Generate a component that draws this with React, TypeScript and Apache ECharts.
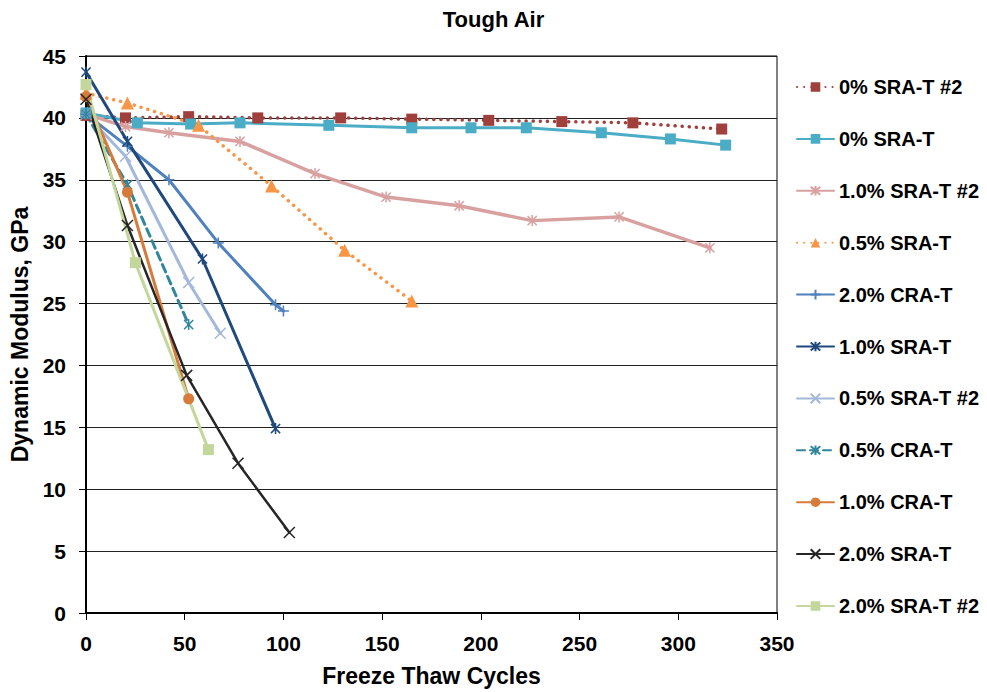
import React, { useEffect, useRef } from "react";
import * as echarts from "echarts";

// ---- Data (Freeze Thaw Cycles, Dynamic Modulus GPa) ----
const seriesNames = [
  "0% SRA-T #2",
  "0% SRA-T",
  "1.0% SRA-T #2",
  "0.5% SRA-T",
  "2.0% CRA-T",
  "1.0% SRA-T",
  "0.5% SRA-T #2",
  "0.5% CRA-T",
  "1.0% CRA-T",
  "2.0% SRA-T",
  "2.0% SRA-T #2",
];

const sra0b_x = [0, 20, 52, 87, 129, 165, 204, 241, 277, 322];
const sra0b_y = [40.2, 40.0, 40.1, 40.0, 40.0, 39.9, 39.8, 39.7, 39.6, 39.1];

const sra0_x = [0, 26, 53, 78, 123, 165, 195, 223, 261, 296, 324];
const sra0_y = [40.4, 39.6, 39.5, 39.6, 39.4, 39.2, 39.2, 39.2, 38.8, 38.3, 37.8];

const sra10b_x = [0, 20, 42, 78, 116, 152, 189, 226, 270, 316];
const sra10b_y = [40.3, 39.3, 38.8, 38.1, 35.5, 33.6, 32.9, 31.7, 32.0, 29.5];

const sra05_x = [0, 21, 57, 94, 131, 165];
const sra05_y = [42.0, 41.2, 39.4, 34.5, 29.3, 25.2];

const cra20_x = [0, 21, 42, 67, 96, 100];
const cra20_y = [40.3, 37.7, 35.0, 29.9, 24.9, 24.4];

const sra10_x = [0, 21, 59, 96];
const sra10_y = [43.7, 38.1, 28.6, 14.9];

const sra05b_x = [0, 20, 52, 68];
const sra05b_y = [40.3, 36.9, 26.7, 22.6];

const cra05_x = [0, 21, 52];
const cra05_y = [40.3, 34.6, 23.3];

const cra10_x = [0, 21, 52];
const cra10_y = [41.7, 34.0, 17.3];

const sra20_x = [0, 21, 51, 77, 103];
const sra20_y = [41.5, 31.3, 19.2, 12.1, 6.5];

const sra20b_x = [0, 25, 62];
const sra20b_y = [42.7, 28.3, 13.2];

const xTicks = [0, 50, 100, 150, 200, 250, 300, 350];
const yTicks = [0, 5, 10, 15, 20, 25, 30, 35, 40, 45];

const FONT = "Arial, 'Liberation Sans', sans-serif";

const SYM_AST = "path://M0,0 L10,10 M10,0 L0,10 M5,-1 L5,11";
const SYM_PLUS = "path://M5,0 L5,10 M0,5 L10,5";
const SYM_X = "path://M0,0 L10,10 M10,0 L0,10";

function zip(xs: number[], ys: number[]) {
  return xs.map((x, i) => [x, ys[i]]);
}

type Spec = {
  name: string;
  xs: number[];
  ys: number[];
  color: string;
  width: number;
  type: any;
  symbol: string;
  size: number;
  stroke?: boolean;
};

const specs: Spec[] = [
  { name: seriesNames[0], xs: sra0b_x, ys: sra0b_y, color: "#A0403C", width: 3.5, type: [0.1, 7], symbol: "rect", size: 11 },
  { name: seriesNames[1], xs: sra0_x, ys: sra0_y, color: "#4BACC6", width: 3, type: "solid", symbol: "rect", size: 11 },
  { name: seriesNames[2], xs: sra10b_x, ys: sra10b_y, color: "#D9A0A0", width: 3.5, type: "solid", symbol: SYM_AST, size: 11, stroke: true },
  { name: seriesNames[3], xs: sra05_x, ys: sra05_y, color: "#F79646", width: 3.5, type: [0.1, 7], symbol: "triangle", size: 13 },
  { name: seriesNames[4], xs: cra20_x, ys: cra20_y, color: "#4F81BD", width: 3, type: "solid", symbol: SYM_PLUS, size: 11, stroke: true },
  { name: seriesNames[5], xs: sra10_x, ys: sra10_y, color: "#1F497D", width: 3, type: "solid", symbol: SYM_AST, size: 11, stroke: true },
  { name: seriesNames[6], xs: sra05b_x, ys: sra05b_y, color: "#A3B8DA", width: 3, type: "solid", symbol: SYM_X, size: 11, stroke: true },
  { name: seriesNames[7], xs: cra05_x, ys: cra05_y, color: "#31859C", width: 3, type: [8, 5], symbol: SYM_AST, size: 11, stroke: true },
  { name: seriesNames[8], xs: cra10_x, ys: cra10_y, color: "#D67B3A", width: 3, type: "solid", symbol: "circle", size: 11 },
  { name: seriesNames[9], xs: sra20_x, ys: sra20_y, color: "#262626", width: 2.5, type: "solid", symbol: SYM_X, size: 11, stroke: true },
  { name: seriesNames[10], xs: sra20b_x, ys: sra20b_y, color: "#C3D69B", width: 3, type: "solid", symbol: "rect", size: 11 },
];

export default function App() {
  const ref = useRef<HTMLDivElement>(null);

  useEffect(() => {
    if (!ref.current) return;
    const chart = echarts.init(ref.current, null, { renderer: "svg" });

    const series = specs.map((s) => ({
      name: s.name,
      type: "line",
      data: zip(s.xs, s.ys),
      color: s.color,
      symbol: s.symbol,
      symbolSize: s.size,
      symbolKeepAspect: true,
      showSymbol: true,
      lineStyle: { color: s.color, width: s.width, type: s.type, cap: "round" },
      itemStyle: s.stroke
        ? { color: s.color, borderColor: s.color, borderWidth: 1.5 }
        : { color: s.color, borderWidth: 0 },
      emphasis: { disabled: true },
    }));

    chart.setOption({
      animation: false,
      backgroundColor: "#ffffff",
      title: {
        text: "Tough Air",
        left: "center",
        top: 3,
        textStyle: { fontFamily: FONT, fontWeight: "bold", fontSize: 22, color: "#000" },
      },
      legend: {
        orient: "vertical",
        left: 791,
        top: 72,
        itemWidth: 37,
        itemHeight: 12,
        itemGap: 31.9,
        data: seriesNames,
        textStyle: { fontFamily: FONT, fontWeight: "bold", fontSize: 20, color: "#000", lineHeight: 20 },
      },
      grid: {
        left: 86,
        right: 210,
        top: 56,
        bottom: 74,
        show: true,
        borderColor: "#000",
        borderWidth: 1,
      },
      xAxis: {
        type: "value",
        min: 0,
        max: 350,
        interval: 50,
        name: "Freeze Thaw Cycles",
        nameLocation: "middle",
        nameGap: 51,
        nameTextStyle: { fontFamily: FONT, fontWeight: "bold", fontSize: 23, color: "#000" },
        axisLine: { show: true, onZero: false, lineStyle: { color: "#000", width: 2 } },
        axisTick: { show: true, length: 7, lineStyle: { color: "#000", width: 1 } },
        axisLabel: {
          fontFamily: FONT,
          fontWeight: "bold",
          fontSize: 21,
          color: "#000",
          margin: 20,
          formatter: (v: number) => (xTicks.includes(v) ? String(v) : ""),
        },
        splitLine: { show: false },
      },
      yAxis: {
        type: "value",
        min: 0,
        max: 45,
        interval: 5,
        name: "Dynamic Modulus, GPa",
        nameLocation: "middle",
        nameGap: 50,
        nameTextStyle: { fontFamily: FONT, fontWeight: "bold", fontSize: 23, color: "#000" },
        axisLine: { show: true, onZero: false, lineStyle: { color: "#000", width: 2 } },
        axisTick: { show: true, length: 7, lineStyle: { color: "#000", width: 1 } },
        axisLabel: {
          fontFamily: FONT,
          fontWeight: "bold",
          fontSize: 21,
          color: "#000",
          margin: 20,
          formatter: (v: number) => (yTicks.includes(v) ? String(v) : ""),
        },
        splitLine: { show: true, lineStyle: { color: "#222", width: 1 } },
      },
      series,
    });

    return () => chart.dispose();
  }, []);

  return (
    <div
      ref={ref}
      style={{ position: "absolute", left: 0, top: 0, width: 987, height: 692, background: "#fff" }}
    />
  );
}
